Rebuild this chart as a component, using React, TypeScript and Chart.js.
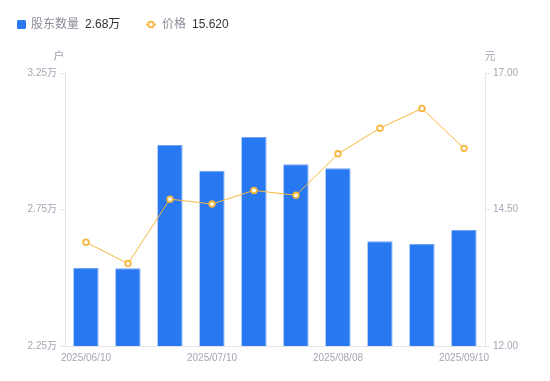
import React, { useEffect, useRef } from "react";
import { Chart, registerables } from "chart.js";

Chart.register(...registerables);

const categories = [
  "2025/06/10", "2025/06/20", "2025/06/30", "2025/07/10", "2025/07/20",
  "2025/07/31", "2025/08/08", "2025/08/20", "2025/08/31", "2025/09/10",
];
const holders = [2.536, 2.535, 2.986, 2.892, 3.016, 2.916, 2.901, 2.634, 2.624, 2.675];
const prices = [13.9, 13.51, 14.69, 14.6, 14.85, 14.76, 15.52, 15.99, 16.35, 15.62];
const leftTicks = [2.25, 2.75, 3.25];
const rightTicks = [12, 14.5, 17];
const legendHolders = "2.68万";
const legendPrice = "15.620";

const FONT = "'Liberation Sans', 'Noto Sans CJK SC', sans-serif";
const BLUE = "#2878F2";
const ORANGE = "#F7B53C";
const TICK = "#a3a6b4";

const overlay = {
  id: "overlay",
  afterDraw(chart: any) {
    const ctx = chart.ctx;
    const ca = chart.chartArea;
    ctx.save();
    // legend
    ctx.textBaseline = "middle";
    ctx.font = `12px ${FONT}`;
    const ly = 24.5;
    ctx.fillStyle = BLUE;
    ctx.beginPath();
    if (ctx.roundRect) ctx.roundRect(17, 20, 9, 9, 1.5);
    else ctx.rect(17, 20, 9, 9);
    ctx.fill();
    ctx.fillStyle = "#8a8d99";
    ctx.textAlign = "left";
    ctx.fillText("股东数量", 31, ly);
    ctx.fillStyle = "#333333";
    ctx.fillText(legendHolders, 85, ly);
    ctx.strokeStyle = ORANGE;
    ctx.lineWidth = 1.5;
    ctx.beginPath();
    ctx.moveTo(146, ly);
    ctx.lineTo(156, ly);
    ctx.stroke();
    ctx.beginPath();
    ctx.arc(151, ly, 2.8, 0, Math.PI * 2);
    ctx.fillStyle = "#ffffff";
    ctx.fill();
    ctx.lineWidth = 1.8;
    ctx.stroke();
    ctx.fillStyle = "#8a8d99";
    ctx.fillText("价格", 162, ly);
    ctx.fillStyle = "#333333";
    ctx.fillText(legendPrice, 192, ly);
    // axis titles
    ctx.font = `11px ${FONT}`;
    ctx.fillStyle = TICK;
    ctx.textAlign = "center";
    ctx.fillText("户", ca.left - 6, 57);
    ctx.fillText("元", ca.right + 5, 57);
    ctx.restore();
  },
};

export default function App() {
  const ref = useRef<HTMLCanvasElement | null>(null);
  useEffect(() => {
    document.body.style.margin = "0";
    const chart = new Chart(ref.current as HTMLCanvasElement, {
      data: {
        labels: categories,
        datasets: [
          {
            type: "line",
            label: "价格",
            data: prices,
            yAxisID: "y1",
            borderColor: ORANGE,
            borderWidth: 1,
            pointRadius: 2.8,
            pointBorderWidth: 1.8,
            pointBackgroundColor: "#ffffff",
            pointBorderColor: ORANGE,
            tension: 0,
            order: 0,
          },
          {
            type: "bar",
            label: "股东数量",
            data: holders,
            yAxisID: "y",
            backgroundColor: BLUE,
            borderColor: "#6fa2f2",
            borderWidth: { top: 1, right: 1, left: 0, bottom: 0 },
            barPercentage: 0.6,
            categoryPercentage: 1,
            order: 1,
          },
        ],
      } as any,
      options: {
        animation: false,
        responsive: false,
        maintainAspectRatio: false,
        layout: { padding: { top: 73, left: 0, right: 0, bottom: 0 } },
        plugins: { legend: { display: false }, tooltip: { enabled: false } },
        scales: {
          x: {
            grid: { display: false, drawTicks: false },
            border: { display: true, color: "#e3e4e8" },
            ticks: {
              autoSkip: false,
              maxRotation: 0,
              color: TICK,
              font: { size: 10, family: FONT },
              padding: 6,
              callback: (_v: any, i: number) => (i % 3 === 0 ? categories[i] : ""),
            },
            afterFit: (s: any) => { s.height = 35; },
          },
          y: {
            position: "left",
            min: 2.25,
            max: 3.25,
            afterBuildTicks: (s: any) => { s.ticks = leftTicks.map((v) => ({ value: v })); },
            grid: { drawOnChartArea: false, drawTicks: true, tickLength: 5, color: "#e3e4e8" },
            border: { display: true, color: "#e3e4e8" },
            ticks: {
              color: TICK,
              font: { size: 10, family: FONT },
              padding: 3,
              callback: (v: any) => Number(v).toFixed(2) + "万",
            },
            afterFit: (s: any) => { s.width = 65; },
          },
          y1: {
            position: "right",
            min: 12,
            max: 17,
            afterBuildTicks: (s: any) => { s.ticks = rightTicks.map((v) => ({ value: v })); },
            grid: { drawOnChartArea: false, drawTicks: true, tickLength: 5, color: "#e3e4e8" },
            border: { display: true, color: "#e3e4e8" },
            ticks: {
              color: TICK,
              font: { size: 10, family: FONT },
              padding: 3,
              callback: (v: any) => Number(v).toFixed(2),
            },
            afterFit: (s: any) => { s.width = 65; },
          },
        },
      } as any,
      plugins: [overlay],
    });
    return () => chart.destroy();
  }, []);
  return (
    <div style={{ position: "absolute", left: 0, top: 0, width: 550, height: 381 }}>
      <canvas ref={ref} width={550} height={381} style={{ width: 550, height: 381 }} />
    </div>
  );
}
